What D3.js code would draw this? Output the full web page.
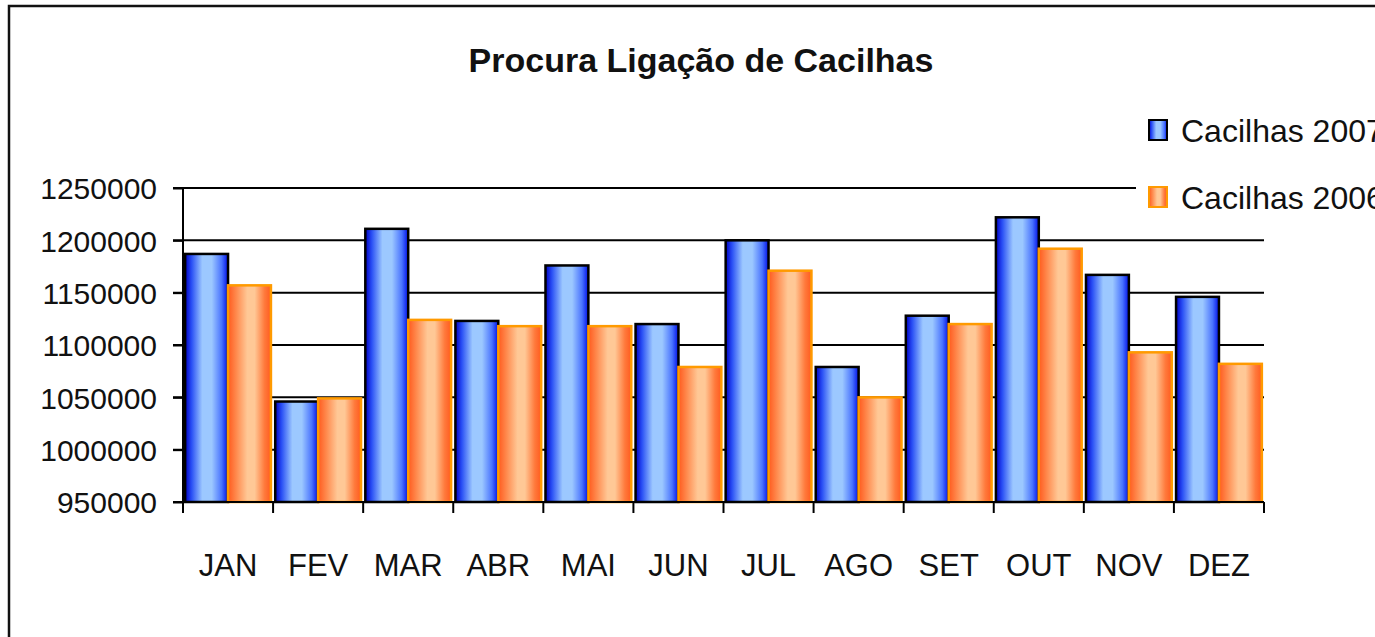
<!DOCTYPE html>
<html>
<head>
<meta charset="utf-8">
<script src="https://cdn.jsdelivr.net/npm/d3@7"></script>
<style>
  html, body { margin: 0; padding: 0; background: #fff; overflow: hidden; }
  svg { display: block; font-family: "Liberation Sans", Arial, sans-serif; }
</style>
</head>
<body>
<div class="svg-container"></div>
<script>
// data
const months = ['JAN', 'FEV', 'MAR', 'ABR', 'MAI', 'JUN', 'JUL', 'AGO', 'SET', 'OUT', 'NOV', 'DEZ'];
const series = ['Cacilhas 2007', 'Cacilhas 2006'];
const cacilhas2007 = [1187000, 1046000, 1211000, 1123000, 1176000, 1120000, 1200000, 1079000, 1128000, 1222000, 1167000, 1146000];
const cacilhas2006 = [1157000, 1049000, 1124000, 1118000, 1118000, 1079000, 1171000, 1050000, 1120000, 1192000, 1093000, 1082000];
const yTicks = [950000, 1000000, 1050000, 1100000, 1150000, 1200000, 1250000];
const title = 'Procura Ligação de Cacilhas';

const W = 1375, H = 637;
const plot = {left: 183, right: 1264, top: 188, bottom: 502};

const svg = d3.select('.svg-container')
    .append('svg')
    .attr('width', W)
    .attr('height', H);

// gradients for the bars
const defs = svg.append('defs');
function gradient(id, stops) {
    const g = defs.append('linearGradient').attr('id', id)
        .attr('x1', '0%').attr('x2', '100%').attr('y1', '0%').attr('y2', '0%');
    stops.forEach(function (s) {
        g.append('stop').attr('offset', s[0]).attr('stop-color', s[1]);
    });
}
gradient('grad-blue', [['0%', '#0000c8'], ['15%', '#2a50f5'], ['40%', '#9cc8ff'], ['62%', '#9cc8ff'], ['85%', '#4a74ff'], ['100%', '#0010e8']]);
gradient('grad-orange', [['0%', '#ff5a1e'], ['20%', '#ff8c50'], ['45%', '#ffc896'], ['62%', '#ffc896'], ['85%', '#ff7a3c'], ['100%', '#ff5a1e']]);

const colors = {'Cacilhas 2007': {fill: 'url(#grad-blue)', stroke: '#000000'},
                'Cacilhas 2006': {fill: 'url(#grad-orange)', stroke: '#ff9a00'}};

// outer frame
svg.append('rect')
    .attr('x', 9).attr('y', 6)
    .attr('width', W + 20).attr('height', H + 20)
    .attr('fill', 'none')
    .attr('stroke', '#111')
    .attr('stroke-width', 2.5);

// scales
const x0 = d3.scaleBand().domain(months).range([plot.left, plot.right]).paddingInner(0).paddingOuter(0);
const x1 = d3.scaleBand().domain(series).range([0, x0.bandwidth()]).paddingInner(0).paddingOuter(0.05);
const y = d3.scaleLinear().domain([950000, 1250000]).range([plot.bottom, plot.top]);

// gridlines
svg.append('g').attr('class', 'grid')
    .selectAll('line')
    .data(yTicks).enter().append('line')
    .attr('x1', plot.left - 10)
    .attr('x2', plot.right)
    .attr('y1', d => y(d))
    .attr('y2', d => y(d))
    .attr('stroke', '#000')
    .attr('stroke-width', 2);

// bars
const rows = months.map(function (m, i) {
    return {month: m, values: [{key: series[0], value: cacilhas2007[i]}, {key: series[1], value: cacilhas2006[i]}]};
});

const groups = svg.append('g').selectAll('g')
    .data(rows).enter().append('g')
    .attr('transform', d => 'translate(' + x0(d.month) + ',0)');

groups.selectAll('rect')
    .data(d => d.values).enter().append('rect')
    .attr('x', d => x1(d.key))
    .attr('y', d => y(d.value))
    .attr('width', x1.bandwidth())
    .attr('height', d => y(950000) - y(d.value))
    .attr('fill', d => colors[d.key].fill)
    .attr('stroke', d => colors[d.key].stroke)
    .attr('stroke-width', 2.5);

// y axis
const yAxis = svg.append('g')
    .attr('class', 'y-axis')
    .attr('transform', 'translate(' + plot.left + ',0)')
    .call(d3.axisLeft(y).tickValues(yTicks).tickFormat(d3.format('d')).tickSize(10).tickPadding(16));
yAxis.select('.domain').remove();
yAxis.append('line')
    .attr('x1', 0).attr('x2', 0)
    .attr('y1', plot.top).attr('y2', plot.bottom + 11)
    .attr('stroke', '#000').attr('stroke-width', 2);
yAxis.selectAll('.tick line').attr('stroke', '#000').attr('stroke-width', 2);
yAxis.selectAll('text')
    .style('font-size', '30px')
    .attr('fill', '#111')
    .attr('dy', '0.36em');

// x axis
const xAxis = svg.append('g')
    .attr('class', 'x-axis')
    .attr('transform', 'translate(0,' + plot.bottom + ')')
    .call(d3.axisBottom(x0).tickSize(0).tickPadding(52));
xAxis.select('.domain').remove();
xAxis.append('line')
    .attr('x1', plot.left - 10).attr('x2', plot.right)
    .attr('y1', 0).attr('y2', 0)
    .attr('stroke', '#000').attr('stroke-width', 2);
xAxis.selectAll('.sep')
    .data(months.concat(['end'])).enter().append('line')
    .attr('class', 'sep')
    .attr('x1', (d, i) => plot.left + i * x0.step())
    .attr('x2', (d, i) => plot.left + i * x0.step())
    .attr('y1', 0).attr('y2', 11)
    .attr('stroke', '#000').attr('stroke-width', 2);
xAxis.selectAll('.tick text')
    .style('font-size', '31px')
    .attr('fill', '#111');

// title
svg.append('text')
    .attr('x', 701)
    .attr('y', 72)
    .attr('text-anchor', 'middle')
    .style('font-size', '34px')
    .style('font-weight', 'bold')
    .attr('fill', '#111')
    .text(title);

// legend (white box covers the top gridline)
const legend = svg.append('g').attr('class', 'legend');
legend.append('rect')
    .attr('x', 1136).attr('y', 108)
    .attr('width', 260).attr('height', 116)
    .attr('fill', '#fff');
series.forEach(function (s, i) {
    const ly = 120 + i * 67;
    legend.append('rect')
        .attr('x', 1149).attr('y', ly)
        .attr('width', 18).attr('height', 20)
        .attr('fill', colors[s].fill)
        .attr('stroke', colors[s].stroke)
        .attr('stroke-width', 2);
    legend.append('text')
        .attr('x', 1181)
        .attr('y', ly + 22)
        .style('font-size', '32px')
        .attr('fill', '#111')
        .text(s);
});
</script>
</body>
</html>
